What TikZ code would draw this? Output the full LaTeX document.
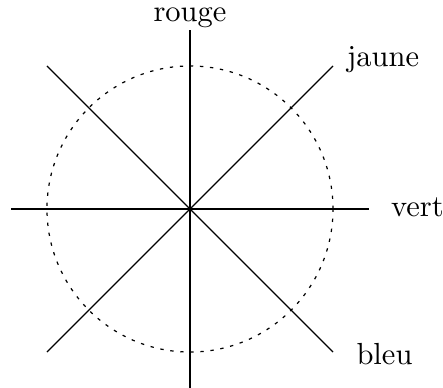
\documentclass[tikz,border=0pt]{standalone}
\usetikzlibrary{positioning}
\tikzset{
  axe/.style={line width=0.4pt},
  cercle/.style={line width=0.4pt,dash pattern=on 1.1pt off 2.2pt},
  lbl/.style={inner sep=0pt,anchor=base}
}
\begin{document}
\begin{tikzpicture}[x=0.824cm,y=0.824cm]
  \useasboundingbox (-2.657,-2.49) rectangle (3.538,2.923);
  \coordinate (o) at (0,0);
  \coordinate (h) at (0,2.5);
  \coordinate (b) at (0,-2.5);
  \coordinate (g) at (-2.5,0);
  \coordinate (d) at (2.5,0);
  \coordinate (hd) at (2,2);
  \coordinate (bg) at (-2,-2);
  \coordinate (hg) at (-2,2);
  \coordinate (bd) at (2,-2);

  \draw[cercle] (o) circle (2);
  \draw[axe] (b) -- (h);
  \draw[axe] (g) -- (d);
  \draw[axe] (bg) -- (hd);
  \draw[axe] (hg) -- (bd);

  \node[lbl] (rouge) at (0,2.62) {rouge};
  \node[lbl] (jaune) at (2.70,1.99) {jaune};
  \node[lbl] (vert) at (3.18,-0.105) {vert};
  \node[lbl] (bleu) at (2.72,-2.18) {bleu};
\end{tikzpicture}
\end{document}
